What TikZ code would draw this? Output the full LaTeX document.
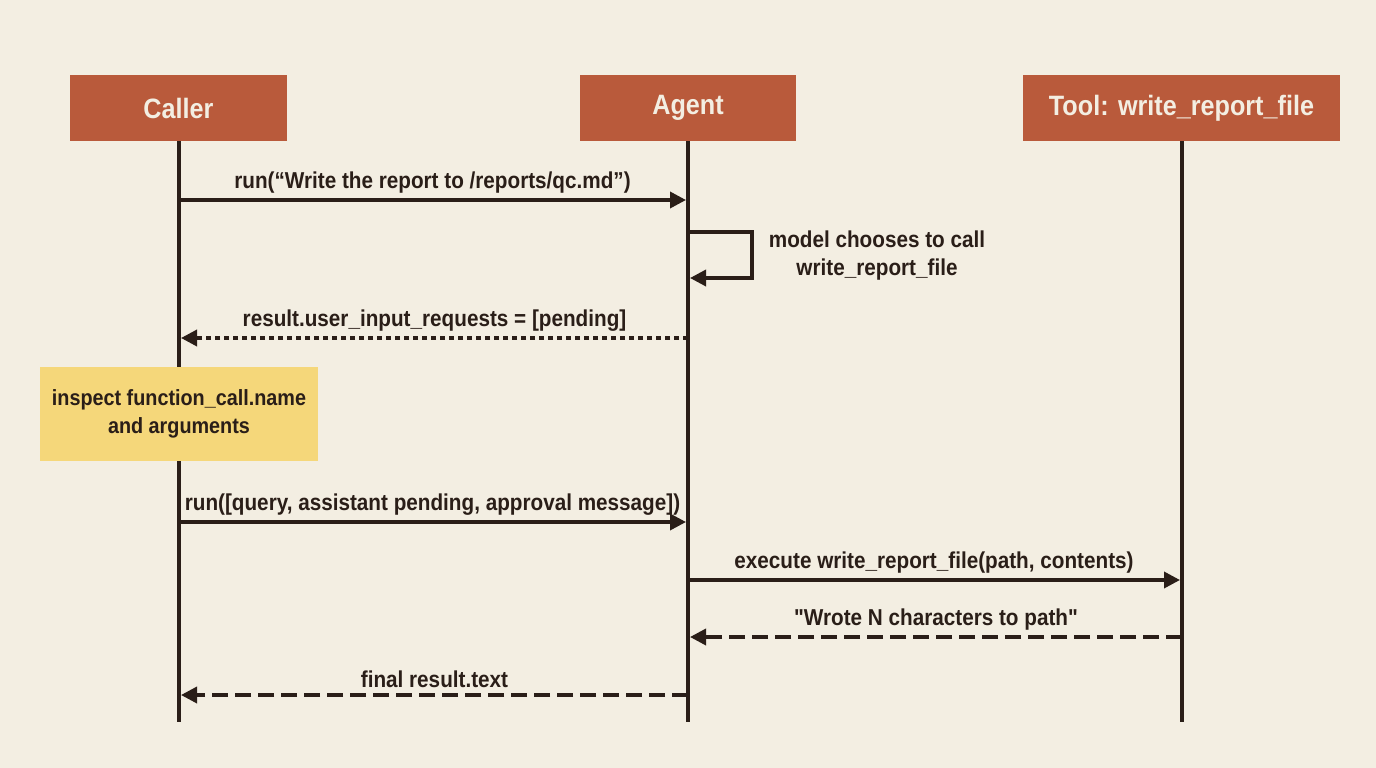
\documentclass[tikz,border=0pt]{standalone}
\usepackage{fontspec}
\setmainfont{Liberation Sans}[FakeStretch=0.9,Ligatures=TeXOff]
\usetikzlibrary{arrows.meta}
\definecolor{bg}{HTML}{F3EEE2}
\definecolor{hdr}{HTML}{B95A3B}
\definecolor{note}{HTML}{F5D77A}
\definecolor{ink}{HTML}{2A1E18}
\begin{document}
\begin{tikzpicture}[x=1pt,y=-1pt,
  hd/.style={fill=hdr,text=bg,font=\bfseries\fontsize{28}{32}\selectfont,minimum height=66pt,inner sep=0pt},
  lbl/.style={font=\bfseries\fontsize{23}{28}\selectfont,text=ink},
  life/.style={ink,line width=3.5pt},
  msg/.style={ink,line width=3.5pt,-{Triangle[length=16pt,width=16pt]}},
  dot/.style={msg,dash pattern=on 5pt off 4pt},
  dsh/.style={msg,dash pattern=on 16pt off 7pt}]
\fill[bg] (0,0) rectangle (1376,768);
\useasboundingbox (0,0) rectangle (1376,768);
\node[hd,minimum width=217pt] (caller) at (178.5,108) {Caller};
\node[hd,minimum width=216pt] (agent) at (688,108) {Agent};
\node[hd,minimum width=317pt] (tool) at (1181.5,108) {Tool: write\_report\_file};
\coordinate (ce) at (179,722); \coordinate (ae) at (688,722); \coordinate (te) at (1182,722);
\draw[life] (179,141) -- (ce);
\draw[life] (688,141) -- (ae);
\draw[life] (1182,141) -- (te);
\node[fill=note,minimum width=278pt,minimum height=94pt,align=center,lbl,font=\bfseries\fontsize{22}{28}\selectfont,inner sep=0pt] (insp) at (179,414) {inspect function\_call.name\\and arguments};
\coordinate (a1) at (179,200); \coordinate (b1) at (686,200);
\draw[msg] (a1) -- node[lbl,above=2pt] {run(“Write the report to /reports/qc.md”)} (b1);
\coordinate (s1) at (688,232); \coordinate (s2) at (690,278);
\draw[msg] (s1) -- (752,232) -- (752,278) -- (s2);
\node[lbl,align=center] (selfl) at (877,256) {model chooses to call\\write\_report\_file};
\coordinate (a3) at (688,338); \coordinate (b3) at (181,338);
\draw[dot] (a3) -- node[lbl,above=2pt] {result.user\_input\_requests = [pending]} (b3);
\coordinate (a4) at (179,522); \coordinate (b4) at (686,522);
\draw[msg] (a4) -- node[lbl,above=2pt] {run([query, assistant pending, approval message])} (b4);
\coordinate (a5) at (688,580); \coordinate (b5) at (1180,580);
\draw[msg] (a5) -- node[lbl,above=2pt] {execute write\_report\_file(path, contents)} (b5);
\coordinate (a6) at (1182,637); \coordinate (b6) at (690,637);
\draw[dsh] (a6) -- node[lbl,above=2pt] {"Wrote N characters to path"} (b6);
\coordinate (a7) at (688,695); \coordinate (b7) at (181,695);
\draw[dsh] (a7) -- node[lbl,above=2pt] {final result.text} (b7);
\end{tikzpicture}
\end{document}
